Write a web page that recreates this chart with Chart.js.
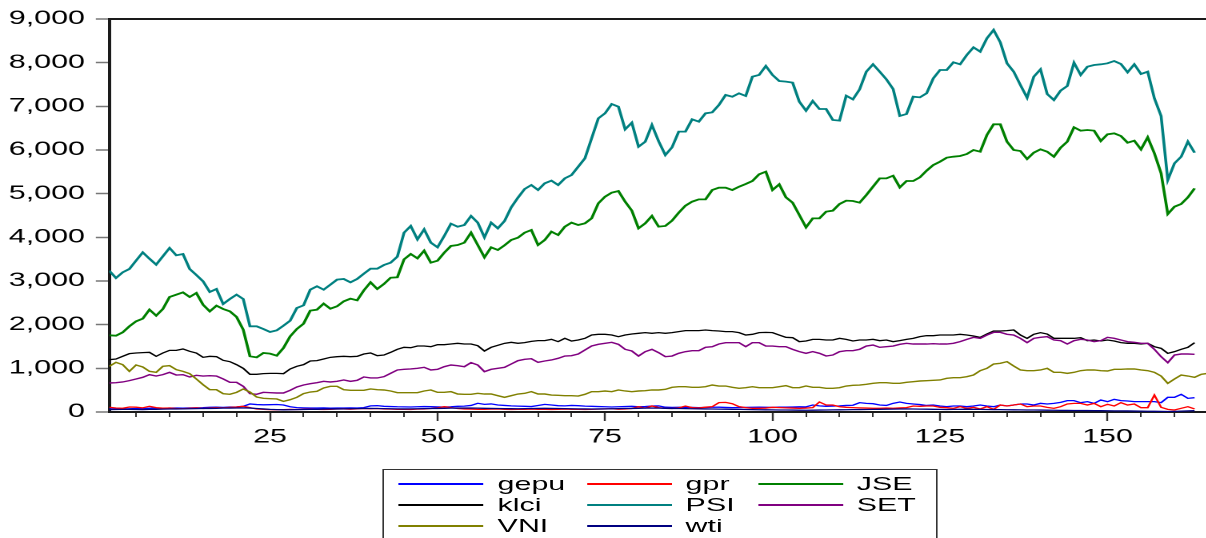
<!DOCTYPE html>
<html>
<head>
<meta charset="utf-8">
<script src="https://cdn.jsdelivr.net/npm/chart.js@4.4.1/dist/chart.umd.min.js"></script>
<style>
  html, body { margin: 0; padding: 0; background: #fff; overflow: hidden; width: 1206px; height: 538px; }
  #wrap { position: absolute; left: 0; top: 0; width: 755px; height: 538px; transform: scaleX(1.6); transform-origin: 0 0; }
  #c { position: absolute; left: 0; top: 0; }
  #legend { position: absolute; left: 239px; top: 469px; width: 347px; height: 90px; box-sizing: border-box;
            border: 1.5px solid #333; padding: 3px 0 0 9px; display: grid;
            grid-template-columns: 117.5px 107px 100px; grid-auto-rows: 21px;
            font-family: "Liberation Sans", Arial, sans-serif; font-size: 19px; line-height: 21px; color: #000; }
  .item { display: flex; align-items: center; white-space: nowrap; }
  .swatch { display: inline-block; width: 53px; height: 2px; margin-right: 9px; }
</style>
</head>
<body>
<div id="wrap">
  <canvas id="c" width="755" height="538"></canvas>
  <div id="legend"></div>
</div>
<script>
// ---- observation index (x categories) ----
const obs = Array.from({ length: 165 }, (_, k) => k + 1);

// ---- tick labels ----
const yTicks = [0, 1000, 2000, 3000, 4000, 5000, 6000, 7000, 8000, 9000];
const majorTicks = [25, 50, 75, 100, 125, 150];
const minorTicks = [5, 10, 15, 20, 25, 30, 35, 40, 45, 50, 55, 60, 65, 70, 75, 80, 85, 90, 95, 100,
                    105, 110, 115, 120, 125, 130, 135, 140, 145, 150, 155, 160, 165];

// ---- series values ----
const gepu = [
  70,72,68,75,80,78,85,88,82,90,
  92,88,95,98,100,108,112,105,115,118,
  130,185,170,165,168,172,160,120,100,95,
  92,90,95,88,92,90,95,92,100,140,
  145,130,125,120,118,115,120,125,122,118,
  115,120,130,135,150,200,175,185,160,150,
  140,135,130,125,150,175,160,145,140,150,
  145,135,130,125,120,115,120,125,130,120,
  125,137,140,110,105,107,110,105,100,105,
  108,110,105,100,102,105,108,110,107,105,
  110,112,115,120,118,160,140,130,135,140,
  150,155,214,198,190,160,150,198,229,198,
  183,170,150,160,137,122,137,137,122,137,
  160,137,122,160,137,160,183,183,160,198,
  183,198,221,260,260,214,237,198,275,237,
  290,260,252,237,237,237,237,214,336,336,
  405,313,328
];
const gpr = [
  107,92,85,115,110,95,130,100,88,92,
  80,75,85,95,80,90,100,95,105,115,
  130,100,70,60,55,52,55,60,58,62,
  65,60,58,62,68,70,65,72,80,75,
  80,70,65,62,60,58,65,70,80,95,
  122,100,80,70,65,60,62,65,70,62,
  58,60,62,65,62,60,58,60,65,62,
  60,58,62,65,70,75,65,70,80,122,
  90,137,100,84,80,95,137,100,90,110,
  122,214,220,190,122,100,84,84,90,107,
  100,95,90,84,90,100,229,160,160,120,
  107,100,95,90,84,84,90,84,95,100,
  137,130,137,137,107,99,84,122,84,107,
  69,122,61,160,137,160,183,122,137,137,
  107,84,122,183,198,198,160,198,122,176,
  137,214,160,183,99,99,389,107,61,46,
  84,122,69
];
const JSE = [
  1756,1748,1824,1962,2076,2137,2344,2206,2359,2634,
  2687,2740,2634,2725,2458,2305,2435,2359,2305,2176,
  1885,1275,1252,1351,1336,1290,1466,1733,1901,2023,
  2321,2344,2481,2366,2420,2534,2595,2557,2786,2969,
  2817,2931,3076,3084,3496,3618,3519,3695,3420,3466,
  3649,3802,3824,3878,4107,3824,3542,3771,3710,3817,
  3939,3992,4107,4168,3824,3939,4130,4053,4244,4336,
  4282,4320,4435,4779,4931,5023,5061,4817,4611,4206,
  4320,4489,4244,4260,4382,4565,4725,4817,4870,4870,
  5084,5137,5137,5084,5160,5221,5290,5443,5504,5084,
  5214,4916,4794,4511,4229,4435,4435,4588,4611,4763,
  4840,4832,4794,4969,5160,5351,5351,5412,5145,5290,
  5290,5374,5527,5656,5733,5824,5847,5863,5908,6000,
  5962,6344,6588,6588,6191,6000,5977,5794,5939,6015,
  5962,5847,6053,6191,6519,6443,6458,6443,6206,6359,
  6382,6321,6168,6214,6015,6290,5924,5466,4534,4702,
  4763,4916,5122
];
const klci = [
  1198,1214,1275,1336,1351,1359,1366,1275,1351,1412,
  1412,1443,1389,1351,1252,1275,1267,1183,1153,1084,
  1000,863,863,878,885,885,878,985,1046,1084,
  1168,1176,1214,1252,1267,1275,1267,1275,1328,1351,
  1290,1305,1366,1435,1481,1473,1511,1511,1496,1542,
  1542,1557,1573,1557,1557,1519,1397,1481,1527,1573,
  1595,1573,1588,1618,1634,1634,1664,1611,1687,1626,
  1649,1687,1763,1779,1779,1763,1725,1763,1786,1802,
  1817,1802,1817,1802,1817,1840,1863,1863,1863,1878,
  1863,1855,1840,1840,1817,1763,1779,1817,1824,1817,
  1763,1710,1702,1611,1626,1664,1664,1649,1649,1687,
  1664,1626,1649,1649,1664,1634,1649,1611,1634,1664,
  1687,1725,1748,1748,1763,1763,1763,1779,1763,1740,
  1710,1786,1855,1855,1863,1878,1763,1687,1779,1817,
  1786,1687,1687,1687,1687,1702,1634,1649,1626,1649,
  1626,1588,1573,1573,1557,1573,1496,1458,1344,1382,
  1435,1481,1588
];
const PSI = [
  3237,3069,3198,3275,3466,3656,3511,3374,3565,3756,
  3588,3618,3275,3137,2992,2748,2817,2473,2588,2687,
  2588,1962,1962,1901,1832,1870,1977,2092,2382,2443,
  2802,2878,2802,2916,3031,3046,2969,3046,3168,3282,
  3282,3366,3420,3557,4107,4260,3954,4183,3878,3771,
  4031,4313,4244,4282,4489,4336,4000,4336,4206,4374,
  4687,4908,5107,5198,5084,5237,5298,5198,5351,5427,
  5618,5809,6267,6725,6840,7053,6992,6473,6626,6076,
  6191,6573,6200,5885,6061,6420,6420,6702,6649,6840,
  6863,7031,7260,7221,7298,7237,7679,7718,7924,7718,
  7580,7565,7542,7107,6901,7122,6939,6939,6687,6672,
  7244,7160,7389,7794,7962,7794,7618,7397,6779,6824,
  7221,7206,7298,7641,7832,7832,8008,7962,8176,8351,
  8252,8557,8748,8466,7985,7794,7489,7198,7679,7847,
  7282,7145,7359,7466,8000,7718,7908,7947,7962,7985,
  8038,7970,7779,7962,7740,7794,7183,6779,5313,5695,
  5847,6191,5939
];
const SET = [
  664,672,687,718,756,794,855,824,855,908,
  847,855,802,840,824,832,824,756,679,679,
  588,420,405,450,443,435,435,496,573,618,
  649,672,702,687,702,733,702,725,802,779,
  779,809,885,962,977,985,1000,1023,962,977,
  1038,1076,1061,1038,1130,1076,924,977,1000,1023,
  1099,1176,1206,1221,1137,1168,1191,1229,1282,1290,
  1328,1420,1511,1550,1573,1595,1550,1435,1397,1282,
  1382,1435,1359,1267,1282,1344,1382,1405,1405,1481,
  1496,1557,1588,1588,1588,1496,1588,1588,1511,1511,
  1496,1496,1435,1382,1344,1382,1344,1282,1305,1382,
  1405,1405,1435,1511,1534,1481,1496,1511,1550,1573,
  1557,1557,1557,1565,1557,1557,1573,1611,1664,1710,
  1687,1763,1824,1824,1779,1763,1687,1588,1687,1710,
  1725,1649,1634,1557,1634,1664,1649,1611,1634,1710,
  1687,1649,1611,1595,1573,1573,1435,1267,1130,1305,
  1328,1328,1321
];
const VNI = [
  1046,1137,1084,931,1076,1031,931,908,1046,1061,
  969,931,878,756,626,511,511,420,405,450,
  527,458,344,313,305,298,244,282,336,420,
  458,473,550,588,588,511,496,496,496,527,
  511,504,481,443,443,443,443,481,504,450,
  450,466,412,405,405,427,412,412,374,336,
  374,412,427,466,412,412,389,382,374,374,
  366,405,466,466,481,466,504,481,466,481,
  489,504,504,519,565,580,580,565,565,580,
  618,595,595,565,542,557,580,557,557,557,
  580,603,557,557,595,565,565,542,542,557,
  595,611,618,634,656,672,672,656,656,679,
  695,710,718,725,733,771,786,786,809,847,
  947,1000,1099,1115,1153,1053,962,947,947,962,
  1000,908,908,885,908,947,962,962,947,939,
  977,977,985,985,962,947,908,824,656,756,
  847,824,794,863,885
];
const wti = [
  55,58,60,62,58,55,60,62,65,68,
  70,72,75,78,80,82,85,88,90,92,
  95,90,80,70,60,55,50,52,55,58,
  60,62,65,68,70,72,75,78,80,82,
  80,78,75,72,70,72,75,78,80,82,
  85,88,90,92,90,88,85,82,80,78,
  76,75,78,80,82,85,82,80,78,75,
  72,70,68,70,72,75,78,80,82,85,
  88,90,88,85,82,80,78,75,72,70,
  68,66,64,62,60,58,55,52,50,48,
  46,45,44,42,40,42,44,46,48,50,
  52,54,56,58,60,62,64,66,68,70,
  68,66,64,62,60,58,60,62,64,62,
  60,58,56,54,52,50,48,46,45,44,
  42,40,38,36,35,34,33,32,30,28,
  26,25,24,22,20,18,16,14,12,15,
  20,25,30
];

// ---- series names & colours ----
const seriesNames  = ['gepu', 'gpr', 'JSE', 'klci', 'PSI', 'SET', 'VNI', 'wti'];
const seriesValues = [gepu, gpr, JSE, klci, PSI, SET, VNI, wti];
const seriesColors = ['#0000ff', '#ff0000', '#008000', '#000000', '#008080', '#800080', '#808000', '#000080'];
const seriesWidths = [1.3, 1.3, 1.8, 1.3, 1.8, 1.4, 1.4, 1.3];

Chart.defaults.font.family = '"Liberation Sans", Arial, sans-serif';
Chart.defaults.font.size = 19;
Chart.defaults.color = '#000';

const datasets = seriesNames.map((name, i) => ({
  label: name,
  data: seriesValues[i],
  borderColor: seriesColors[i],
  backgroundColor: seriesColors[i],
  borderWidth: seriesWidths[i],
  pointRadius: 0,
  tension: 0,
  fill: false,
  order: -i
}));

const framePlugin = {
  id: 'frame',
  afterDraw(chart) {
    const { ctx, chartArea: a } = chart;
    ctx.save();
    ctx.strokeStyle = '#1a1a1a';
    ctx.lineWidth = 2;
    ctx.beginPath();
    ctx.moveTo(a.left, a.top);
    ctx.lineTo(a.right, a.top);
    ctx.lineTo(a.right, a.bottom);
    ctx.stroke();
    ctx.restore();
  }
};

new Chart(document.getElementById('c'), {
  type: 'line',
  data: { labels: obs, datasets },
  plugins: [framePlugin],
  options: {
    responsive: false,
    animation: false,
    devicePixelRatio: 2,
    layout: { padding: { top: 19, left: 0, right: 0, bottom: 0 } },
    plugins: { legend: { display: false }, tooltip: { enabled: false }, title: { display: false } },
    scales: {
      x: {
        type: 'linear', min: 1, max: 165,
        afterBuildTicks: s => { s.ticks = majorTicks.map(v => ({ value: v })); },
        afterFit: s => { s.height = 126; },
        grid: { display: true, drawOnChartArea: false, drawTicks: true, tickLength: 9, tickColor: '#333', tickWidth: 1.2 },
        border: { display: true, color: '#1a1a1a', width: 2 },
        ticks: { padding: 5, maxRotation: 0, autoSkip: false, color: '#000', callback: v => String(v) }
      },
      xMinor: {
        type: 'linear', min: 1, max: 165, position: { y: 0 },
        afterBuildTicks: s => { s.ticks = minorTicks.map(v => ({ value: v })); },
        grid: { display: true, drawOnChartArea: false, drawTicks: true, tickLength: 5, tickColor: '#333', tickWidth: 1 },
        border: { display: false },
        ticks: { display: false }
      },
      y: {
        type: 'linear', min: 0, max: 9000,
        afterBuildTicks: s => { s.ticks = yTicks.map(v => ({ value: v })); },
        afterFit: s => { s.width = 68.3; },
        grid: { display: true, drawOnChartArea: false, drawTicks: true, tickLength: 8.4, tickColor: '#777', tickWidth: 1.5 },
        border: { display: true, color: '#1a1a1a', width: 2 },
        ticks: { padding: 6.8, color: '#000', callback: v => Number(v).toLocaleString('en-US') }
      }
    }
  }
});

// ---- legend (3 columns, boxed) ----
const legendEl = document.getElementById('legend');
seriesNames.forEach((name, i) => {
  const item = document.createElement('div');
  item.className = 'item';
  const sw = document.createElement('span');
  sw.className = 'swatch';
  sw.style.backgroundColor = seriesColors[i];
  const tx = document.createElement('span');
  tx.textContent = name;
  item.appendChild(sw);
  item.appendChild(tx);
  legendEl.appendChild(item);
});
</script>
</body>
</html>
